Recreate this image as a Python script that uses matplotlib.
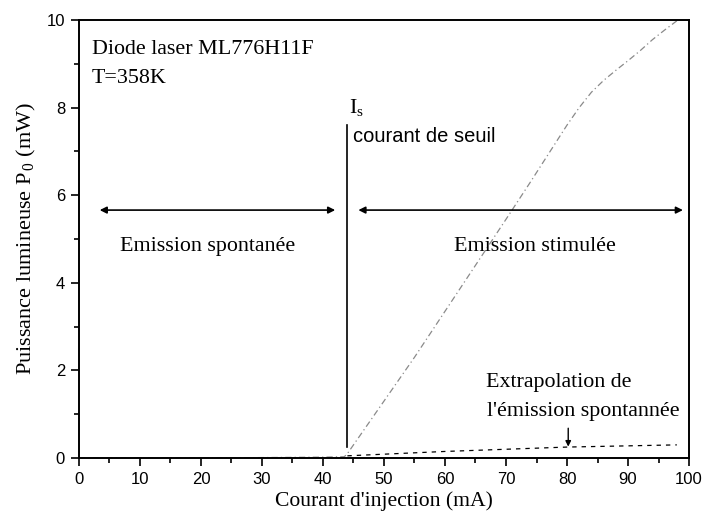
import matplotlib
matplotlib.use("Agg")
import matplotlib.pyplot as plt
from matplotlib.ticker import MultipleLocator

plt.rcParams["mathtext.fontset"] = "custom"
plt.rcParams["mathtext.rm"] = "Liberation Serif"
plt.rcParams["mathtext.it"] = "Liberation Serif:italic"

SERIF = "Liberation Serif"
SANS = "Liberation Sans"

# Measured optical power vs injection current
current_ma = [0, 10, 20, 30, 40, 43.5, 44, 46, 50, 55, 60, 65, 70, 74, 77, 80, 82, 84, 86, 88, 90, 92, 94, 96, 98]
power_mw = [0.0, 0.0, 0.0, 0.01, 0.02, 0.03, 0.1, 0.5, 1.3, 2.3, 3.35, 4.4, 5.45, 6.3, 6.95, 7.6, 8.0, 8.35, 8.62, 8.85, 9.07, 9.3, 9.55, 9.77, 9.98]

# Extrapolated spontaneous emission above threshold
extrap_current = [44, 60, 80, 98]
extrap_power = [0.05, 0.15, 0.25, 0.30]

threshold_ma = 43.9
arrow_level = 5.66

fig = plt.figure(figsize=(7.02, 5.19), dpi=100)
ax = fig.add_axes([0.1125, 0.1175, 0.869, 0.844])

ax.plot(current_ma, power_mw, color="#8a8a8a", lw=0.9, ls=(0, (5, 2.5, 1, 2.5)))
ax.plot(extrap_current, extrap_power, color="black", lw=0.9, ls=(0, (3.5, 4)))

# threshold marker
ax.plot([threshold_ma, threshold_ma], [0.26, 7.6], color="black", lw=1.2)

arrow_kw = dict(arrowstyle="<|-|>", color="black", lw=1.2, mutation_scale=10, shrinkA=0, shrinkB=0)
ax.annotate("", xy=(3.4, arrow_level), xytext=(42.0, arrow_level), arrowprops=arrow_kw)
ax.annotate("", xy=(45.8, arrow_level), xytext=(99.0, arrow_level), arrowprops=arrow_kw)

ax.annotate("", xy=(80.2, 0.26), xytext=(80.2, 0.68),
            arrowprops=dict(arrowstyle="-|>", color="black", lw=1.0, mutation_scale=8,
                            shrinkA=0, shrinkB=0))

FS = 15.8
ax.text(2.1, 9.22, "Diode laser ML776H11F", family=SERIF, fontsize=FS, va="baseline")
ax.text(2.1, 8.56, "T=358K", family=SERIF, fontsize=FS, va="baseline")
ax.text(44.3, 7.88, r"I$_{\mathrm{s}}$", family=SERIF, fontsize=FS, va="baseline")
ax.text(44.9, 7.22, "courant de seuil", family=SANS, fontsize=14.5, va="baseline")
ax.text(6.7, 4.72, "Emission spontanée", family=SERIF, fontsize=FS, va="baseline")
ax.text(61.5, 4.72, "Emission stimulée", family=SERIF, fontsize=FS, va="baseline")
ax.text(66.8, 1.62, "Extrapolation de", family=SERIF, fontsize=FS, va="baseline")
ax.text(66.9, 0.95, "l'émission spontannée", family=SERIF, fontsize=FS, va="baseline")

ax.set_xlim(0, 100)
ax.set_ylim(0, 10)
ax.xaxis.set_major_locator(MultipleLocator(10))
ax.xaxis.set_minor_locator(MultipleLocator(5))
ax.yaxis.set_major_locator(MultipleLocator(2))
ax.yaxis.set_minor_locator(MultipleLocator(1))
ax.tick_params(which="both", direction="out", top=False, right=False, width=1.2)
ax.tick_params(which="major", length=6, labelsize=12, pad=4)
ax.tick_params(which="minor", length=3.5)
for lbl in ax.get_xticklabels() + ax.get_yticklabels():
    lbl.set_family(SANS)
for sp in ax.spines.values():
    sp.set_linewidth(1.4)

ax.set_xlabel("Courant d'injection (mA)", family=SERIF, fontsize=15.6, labelpad=3)
ax.set_ylabel(r"Puissance lumineuse P$_{\,0}$ (mW)", family=SERIF, fontsize=16, labelpad=6)

fig.savefig("out.png", dpi=100)
